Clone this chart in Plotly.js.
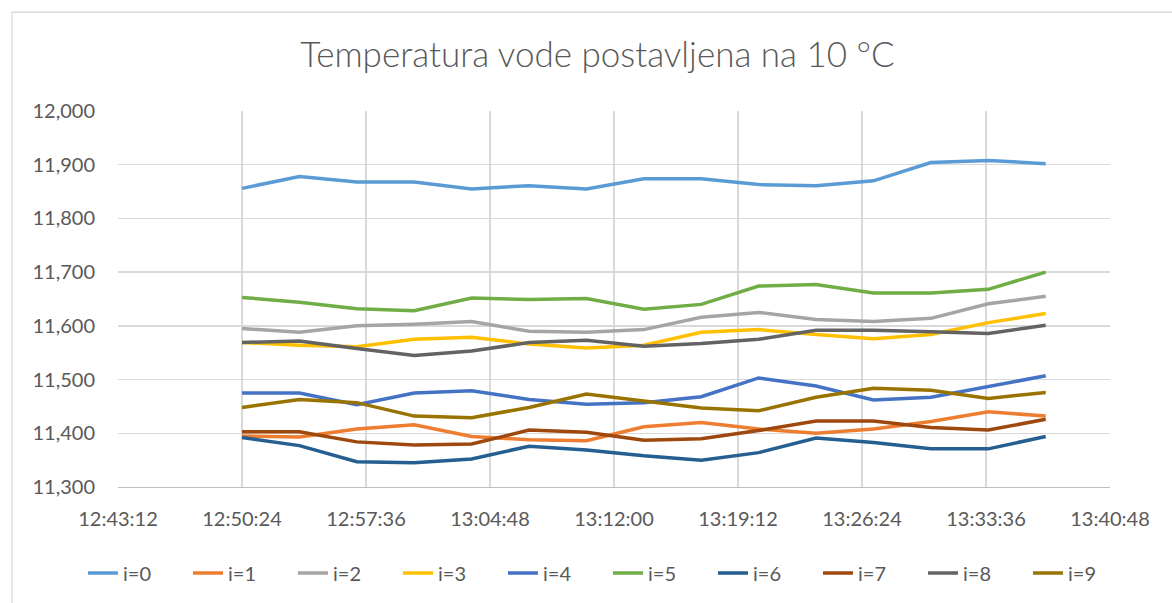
<!DOCTYPE html>
<html>
<head>
<meta charset="utf-8">
<script src="https://cdn.plot.ly/plotly-3.0.1.min.js"></script>
<style>
html,body{margin:0;padding:0;background:#fff;}
#chart{width:1172px;height:603px;}
</style>
</head>
<body>
<div id="chart"></div>
<script>
const times = ["12:50:24","12:53:44","12:57:04","13:00:24","13:03:44","13:07:04","13:10:24","13:13:44","13:17:04","13:20:24","13:23:44","13:27:04","13:30:24","13:33:44","13:37:04"];
const seriesNames = ["i=0","i=1","i=2","i=3","i=4","i=5","i=6","i=7","i=8","i=9"];
const i0 = [11.856,11.878,11.868,11.868,11.855,11.861,11.855,11.874,11.874,11.863,11.861,11.870,11.904,11.908,11.902];
const i1 = [11.395,11.393,11.408,11.416,11.394,11.388,11.386,11.412,11.420,11.408,11.400,11.408,11.422,11.440,11.432];
const i2 = [11.595,11.588,11.600,11.603,11.608,11.590,11.588,11.593,11.616,11.625,11.612,11.608,11.614,11.641,11.655];
const i3 = [11.569,11.564,11.561,11.575,11.579,11.566,11.559,11.564,11.588,11.593,11.584,11.576,11.584,11.606,11.623];
const i4 = [11.475,11.475,11.453,11.475,11.479,11.463,11.454,11.457,11.468,11.503,11.488,11.462,11.467,11.487,11.507];
const i5 = [11.653,11.644,11.632,11.628,11.652,11.649,11.651,11.631,11.640,11.674,11.677,11.661,11.661,11.668,11.700];
const i6 = [11.392,11.377,11.347,11.345,11.352,11.376,11.369,11.358,11.350,11.364,11.391,11.383,11.371,11.371,11.394];
const i7 = [11.403,11.403,11.384,11.378,11.380,11.406,11.402,11.387,11.390,11.405,11.423,11.423,11.411,11.406,11.426];
const i8 = [11.569,11.572,11.558,11.545,11.553,11.569,11.573,11.562,11.567,11.575,11.592,11.592,11.589,11.586,11.601];
const i9 = [11.448,11.463,11.457,11.432,11.429,11.448,11.473,11.460,11.447,11.442,11.467,11.484,11.480,11.465,11.476];
const yTicks = [11.3,11.4,11.5,11.6,11.7,11.8,11.9,12.0];
const colors = ["#5B9BD5","#ED7D31","#A5A5A5","#FFC000","#4472C4","#70AD47","#255E91","#9E480E","#636363","#997300"];

const day = "2000-01-01 ";
const xs = times.map(t => day + t);
const allSeries = [i0,i1,i2,i3,i4,i5,i6,i7,i8,i9];
const font = "Lato, 'Open Sans', sans-serif";

const traces = allSeries.map((ys, k) => ({
  type: "scatter",
  mode: "lines",
  name: seriesNames[k],
  x: xs,
  y: ys,
  line: {color: colors[k], width: 3.5}
}));

const layout = {
  width: 1172, height: 603,
  margin: {l: 118, r: 62, t: 111, b: 115},
  paper_bgcolor: "#ffffff",
  plot_bgcolor: "#ffffff",
  separators: ",.",
  font: {family: font, color: "#595959", size: 20},
  title: {
    text: "Temperatura vode postavljena na 10 °C",
    font: {family: font, size: 35, color: "#595959", weight: 300},
    x: 0.4834, xref: "paper", xanchor: "center",
    y: 0.909, yref: "container", yanchor: "middle"
  },
  xaxis: {
    type: "date",
    range: [day + "12:43:12", day + "13:40:48"],
    tick0: day + "12:43:12",
    dtick: 432000,
    tickformat: "%H:%M:%S",
    showgrid: true, gridcolor: "#D9D9D9", gridwidth: 1.3,
    showline: true, linecolor: "#BFBFBF", linewidth: 1.3,
    ticks: "outside", ticklen: 14, tickcolor: "rgba(0,0,0,0)",
    tickfont: {family: font, size: 20, color: "#595959"},
    zeroline: false, fixedrange: true
  },
  yaxis: {
    range: [11.3, 12.0],
    tickvals: yTicks,
    tickformat: ".3f",
    showgrid: true, gridcolor: "#D9D9D9", gridwidth: 1.3,
    showline: false,
    ticks: "outside", ticklen: 18, tickcolor: "rgba(0,0,0,0)",
    tickfont: {family: font, size: 20, color: "#595959"},
    zeroline: false, fixedrange: true
  },
  legend: {
    orientation: "h",
    x: -0.0353, xanchor: "left", xref: "paper",
    y: -0.2255, yref: "paper", yanchor: "middle",
    font: {family: font, size: 20, color: "#595959"},
    entrywidth: 60, entrywidthmode: "pixels",
    itemclick: false, itemdoubleclick: false,
    tracegroupgap: 0
  },
  shapes: [{
    type: "rect", xref: "paper", yref: "paper",
    x0: -0.1069, x1: 1.2, y0: -0.5, y1: 1.2626,
    line: {color: "#D9D9D9", width: 1.3}, fillcolor: "rgba(0,0,0,0)",
    layer: "below"
  }],
  showlegend: true
};

Plotly.newPlot("chart", traces, layout, {displayModeBar: false, staticPlot: true});
</script>
</body>
</html>
